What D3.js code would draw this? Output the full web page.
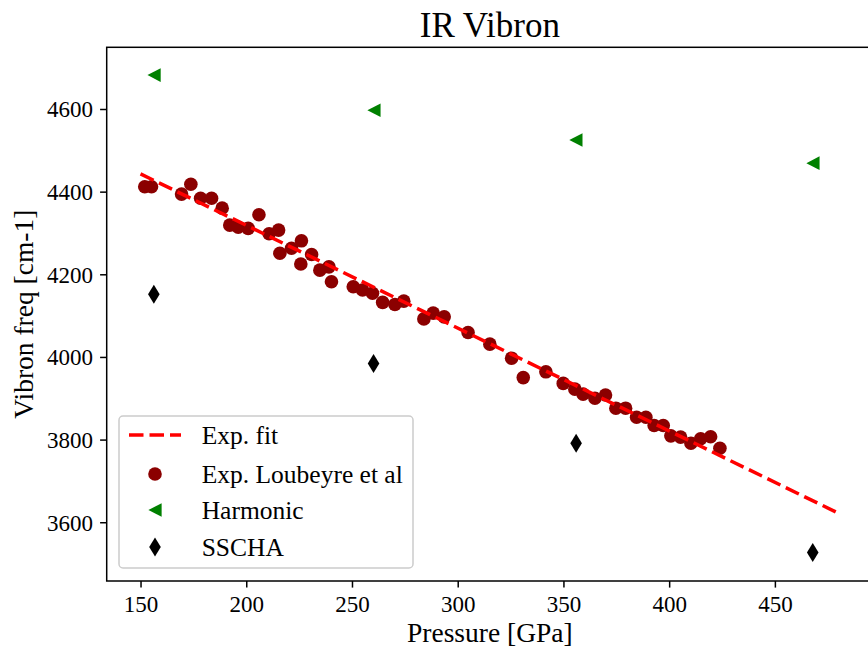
<!DOCTYPE html>
<html>
<head>
<meta charset="utf-8">
<script src="https://cdn.jsdelivr.net/npm/d3@7"></script>
<style>
  html, body { margin: 0; padding: 0; background: #fff; }
  svg { display: block; }
  text { font-family: "Liberation Serif", "Times New Roman", serif; fill: #000; }
</style>
</head>
<body>
<div id="chart"></div>
<script>
// ---------- data ----------
const expPressure = [152.0,155.2,169.4,173.8,178.4,183.6,188.6,192.2,196.2,200.9,206.0,210.8,215.3,215.9,221.4,225.8,226.1,230.9,234.8,239.1,240.3,250.6,255.0,259.7,264.5,270.3,274.5,284.0,288.4,293.6,304.9,315.2,325.5,331.0,341.7,349.9,355.4,359.3,364.9,369.9,374.8,379.4,384.6,389.0,392.9,397.2,400.8,405.4,410.3,414.9,419.6,424.0];
const expFreq = [4412,4412,4394,4418,4384,4384,4360,4319,4314,4311,4344,4298,4307,4251,4263,4225,4281,4248,4210,4218,4182,4170,4162,4154,4132,4127,4135,4092,4106,4097,4059,4031,3997,3950,3964,3936,3922,3910,3900,3908,3876,3876,3854,3854,3834,3834,3809,3806,3791,3802,3807,3779];
const fitPressure = [150, 480];
const fitFreq = [4443, 3622];
const harmPressure = [156.4, 260.4, 355.9, 468.0];
const harmFreq = [4682, 4597, 4525, 4469];
const sschaPressure = [156.3, 260.2, 356.0, 467.9];
const sschaFreq = [4152, 3984, 3791, 3527];
const xTicks = [150, 200, 250, 300, 350, 400, 450];
const yTicks = [3600, 3800, 4000, 4200, 4400, 4600];
const legendLabels = ["Exp. fit", "Exp. Loubeyre et al", "Harmonic", "SSCHA"];
const titleText = "IR Vibron";
const xLabel = "Pressure [GPa]";
const yLabel = "Vibron freq [cm-1]";

// ---------- layout ----------
const W = 868, H = 650;
const L = 106.7, R = 873, T = 47.3, B = 581;
const x = d3.scaleLinear().domain([134.0, 496.4]).range([L, R]);
const y = d3.scaleLinear().domain([3457.8, 4749.3]).range([B, T]);

const svg = d3.select("#chart").append("svg").attr("width", W).attr("height", H);
svg.append("rect").attr("width", W).attr("height", H).attr("fill", "#fff");

const plot = svg.append("g");
const clipId = "clipArea";
svg.append("clipPath").attr("id", clipId).append("rect")
  .attr("x", L).attr("y", T).attr("width", R - L).attr("height", B - T);

// scatter: Loubeyre
plot.append("g").attr("clip-path", `url(#${clipId})`)
  .selectAll("circle").data(expPressure.map((p, i) => [p, expFreq[i]]))
  .join("circle")
  .attr("cx", d => x(d[0])).attr("cy", d => y(d[1]))
  .attr("r", 6.8).attr("fill", "#8b0000");

const triPath = "M-6.6,0L6.6,-6.8L6.6,6.8Z";
const diaPath = "M0,-9.5L5.8,0L0,9.5L-5.8,0Z";

plot.append("g").selectAll("path").data(harmPressure.map((p, i) => [p, harmFreq[i]]))
  .join("path").attr("d", triPath)
  .attr("transform", d => `translate(${x(d[0])},${y(d[1])})`)
  .attr("fill", "#008000");

plot.append("g").selectAll("path").data(sschaPressure.map((p, i) => [p, sschaFreq[i]]))
  .join("path").attr("d", diaPath)
  .attr("transform", d => `translate(${x(d[0])},${y(d[1])})`)
  .attr("fill", "#000");

// fit line
const line = d3.line().x(d => x(d[0])).y(d => y(d[1]));
plot.append("path")
  .datum(fitPressure.map((p, i) => [p, fitFreq[i]]))
  .attr("d", line).attr("fill", "none")
  .attr("stroke", "#ff0000").attr("stroke-width", 3.5)
  .attr("stroke-dasharray", "14.5,6");

// axes
const xAxis = d3.axisBottom(x).tickValues(xTicks).tickFormat(d3.format("d")).tickSize(6.6).tickPadding(8);
const gx = svg.append("g").attr("transform", `translate(0,${B})`).call(xAxis);
const yAxis = d3.axisLeft(y).tickValues(yTicks).tickFormat(d3.format("d")).tickSize(6.6).tickPadding(7);
const gy = svg.append("g").attr("transform", `translate(${L},0)`).call(yAxis);
[gx, gy].forEach(g => {
  g.select(".domain").remove();
  g.selectAll(".tick line").attr("stroke", "#000").attr("stroke-width", 1.5);
  g.selectAll(".tick text").style("font-family", '"Liberation Serif", "Times New Roman", serif')
    .style("font-size", "23px").attr("fill", "#000");
});
gx.selectAll(".tick text").attr("dy", "0.72em");
gy.selectAll(".tick text").attr("dy", "0.34em");

// spines
svg.append("rect").attr("x", L).attr("y", T).attr("width", R - L).attr("height", B - T)
  .attr("fill", "none").attr("stroke", "#000").attr("stroke-width", 1.5);

// title & labels
svg.append("text").attr("x", (L + R) / 2).attr("y", 37).attr("text-anchor", "middle")
  .style("font-size", "35px").text(titleText);
svg.append("text").attr("x", (L + R) / 2).attr("y", 642).attr("text-anchor", "middle")
  .style("font-size", "27.5px").text(xLabel);
svg.append("text").attr("transform", `translate(33,${(T + B) / 2}) rotate(-90)`)
  .attr("text-anchor", "middle").style("font-size", "27.5px").text(yLabel);

// legend
const lg = svg.append("g");
lg.append("rect").attr("x", 119).attr("y", 416).attr("width", 294).attr("height", 152)
  .attr("rx", 4).attr("fill", "#fff").attr("fill-opacity", 0.8)
  .attr("stroke", "#cccccc").attr("stroke-width", 1.5);
const rowY = [435, 474, 510, 547];
lg.append("line").attr("x1", 129).attr("x2", 181).attr("y1", rowY[0]).attr("y2", rowY[0])
  .attr("stroke", "#ff0000").attr("stroke-width", 3.5).attr("stroke-dasharray", "14.5,6");
lg.append("circle").attr("cx", 155).attr("cy", rowY[1]).attr("r", 6.8).attr("fill", "#8b0000");
lg.append("path").attr("d", triPath).attr("transform", `translate(155,${rowY[2]})`).attr("fill", "#008000");
lg.append("path").attr("d", diaPath).attr("transform", `translate(155,${rowY[3]})`).attr("fill", "#000");
legendLabels.forEach((t, i) => {
  lg.append("text").attr("x", 201.7).attr("y", rowY[i] + 9).style("font-size", "25.5px").text(t);
});
</script>
</body>
</html>
